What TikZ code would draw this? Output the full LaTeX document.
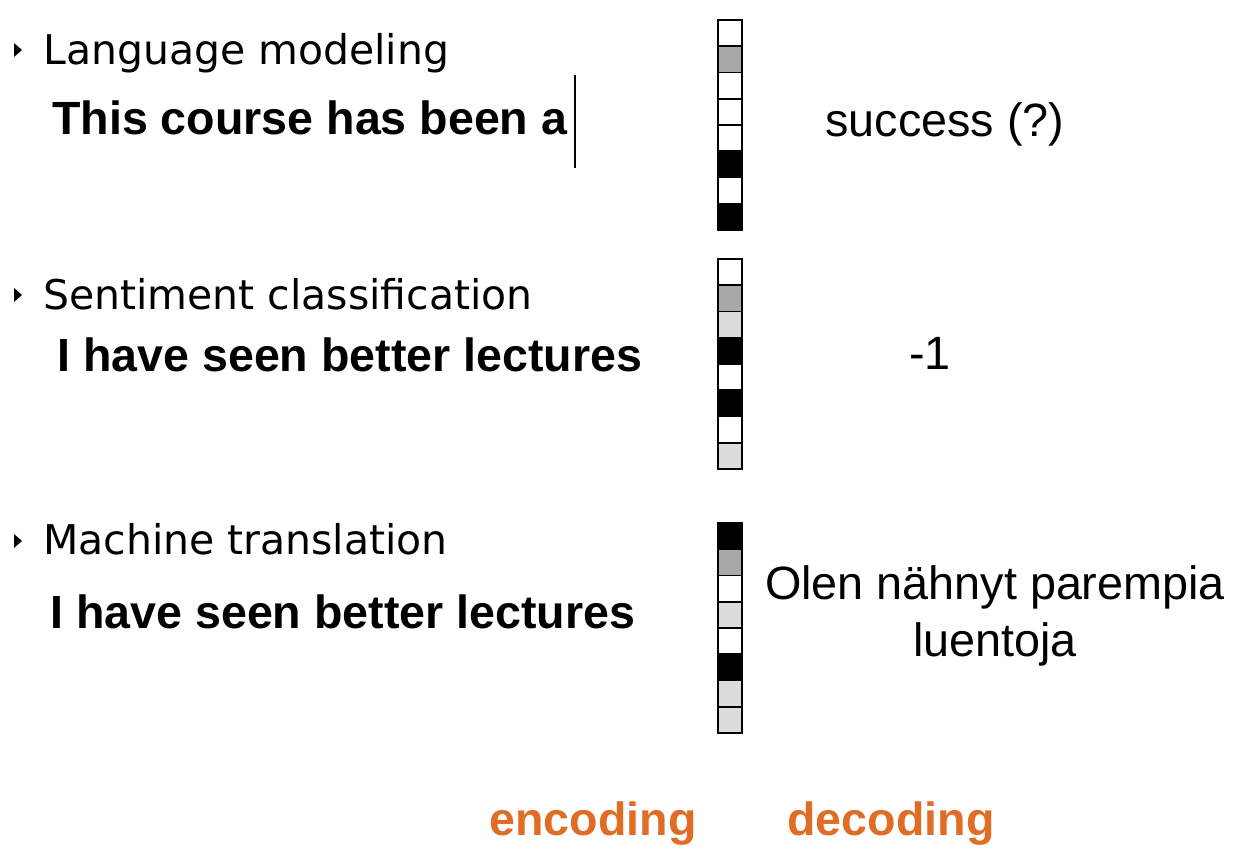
\documentclass[tikz,border=0pt]{standalone}
\usepackage{fontspec}
\setmainfont{Liberation Sans}
\newfontfamily\taskfont{DejaVu Sans}
\usetikzlibrary{positioning, calc}

\definecolor{cellgray}{HTML}{A8A8A8}
\definecolor{celllight}{HTML}{DCDCDC}
\definecolor{stageorange}{HTML}{E06C25}

\tikzset{
	task/.style={anchor=base west, inner sep=0pt, font=\taskfont\fontsize{23.3}{28}\selectfont},
	sentence/.style={anchor=base west, inner sep=0pt, font=\bfseries\fontsize{26.5}{32}\selectfont},
	result/.style={inner sep=0pt, align=center, font=\fontsize{26.6}{32.4}\selectfont},
	stage/.style={anchor=base, inner sep=0pt, text=stageorange, font=\bfseries\fontsize{26.5}{32}\selectfont},
	cell/.style={draw=black, line width=1.1pt}
}

\begin{document}
\begin{tikzpicture}[x=0.02cm, y=-0.02cm]

	% canvas in pixel units
	\useasboundingbox (0,0) rectangle (1248,854);
	\fill[white] (0,0) rectangle (1248,854);

	% Size of one vector cell
	\def\cellW{24}
	\def\cellH{26.25}

	% Task headings with bullets
	\node[task] (lm) at (43,65) {Language modeling};
	\node[task] (sc) at (43,310) {Sentiment classification};
	\node[task] (mt) at (43,555) {Machine translation};
	\foreach \y in {50,295,541}
		\fill (14,\y-7) -- (22,\y) -- (14,\y+7) -- cycle;

	% Input sentences
	\node[sentence] (lmin) at (52,135) {This course has been a};
	\node[sentence] (scin) at (57,372) {I have seen better lectures};
	\node[sentence] (mtin) at (50,629) {I have seen better lectures};

	% Cursor after the sentence
	\coordinate (curtop) at (575,75);
	\coordinate (curbot) at (575,168);
	\draw[line width=1.1pt] (curtop) -- (curbot);

	% Encoded vectors
	\foreach \c [count=\i from 0] in {white,cellgray,white,white,white,black,white,black}
		\draw[cell, fill=\c] (718,{20+\i*\cellH}) rectangle ++(\cellW,\cellH);
	\foreach \c [count=\i from 0] in {white,cellgray,celllight,black,white,black,white,celllight}
		\draw[cell, fill=\c] (718,{259+\i*\cellH}) rectangle ++(\cellW,\cellH);
	\foreach \c [count=\i from 0] in {black,cellgray,white,celllight,white,black,celllight,celllight}
		\draw[cell, fill=\c] (718,{523+\i*\cellH}) rectangle ++(\cellW,\cellH);

	% Decoded outputs
	\node[result, anchor=base] (lmout) at (945,137) {success (?)};
	\node[result, anchor=base] (scout) at (930,370) {-1};
	\node[result] (mtout) at (995,616) {Olen nähnyt parempia\\luentoja};

	% Stage labels
	\node[stage] (enc) at (593,835) {encoding};
	\node[stage] (dec) at (891,835) {decoding};

\end{tikzpicture}
\end{document}
